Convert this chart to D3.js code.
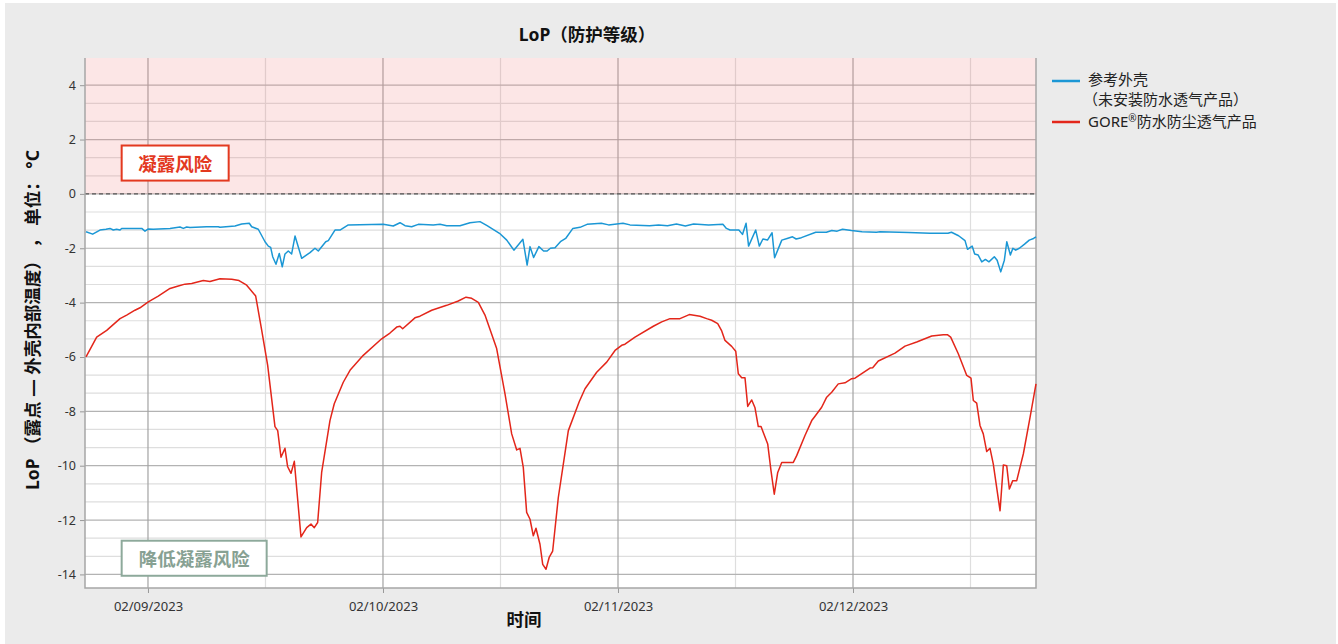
<!DOCTYPE html>
<html><head><meta charset="utf-8">
<script src="https://cdn.jsdelivr.net/npm/d3@7/dist/d3.min.js"></script>
<style>
html,body{margin:0;padding:0;background:#fff;}
svg{display:block;font-family:"Noto Sans","Noto Sans CJK SC",sans-serif;}
</style></head><body>
<svg id="chart" width="1338" height="644"></svg>
<script>
// ---- data (x = days relative to 02/09/2023) ----
const tickDays = [0, 30, 60, 90];
const tickLabels = ["02/09/2023", "02/10/2023", "02/11/2023", "02/12/2023"];
const minorDays = [15, 45, 75, 105];
const yTicks = [-14, -12, -10, -8, -6, -4, -2, 0, 2, 4];

const refDays = [-7.91,-7.06,-6.13,-5.36,-4.85,-4.43,-4.00,-3.57,-3.36,-0.80,-0.38,0.04,0.68,2.81,4.09,4.51,4.94,5.36,7.49,8.97,9.19,11.11,11.96,12.93,13.24,14.08,14.94,15.36,15.66,15.92,16.34,16.76,17.14,17.49,17.91,18.34,18.77,19.62,20.68,21.32,21.74,22.69,23.02,23.87,24.51,25.57,30.04,31.31,32.17,32.81,33.66,34.51,36.42,37.28,38.13,39.83,41.11,42.38,43.29,44.87,45.80,46.71,47.86,48.40,48.77,49.23,49.90,50.50,50.95,51.37,51.96,52.65,53.32,54.24,55.15,56.05,57.88,58.80,60.63,61.53,64.03,65.18,66.32,67.46,68.60,69.65,71.57,73.39,73.84,74.30,75.43,75.89,76.35,76.67,77.58,78.04,78.50,79.08,79.67,79.99,80.91,81.59,82.28,82.74,83.41,85.24,86.60,87.29,87.97,88.66,89.80,91.16,92.99,93.45,97.10,99.83,102.12,102.57,103.48,104.30,104.62,105.21,105.53,105.98,106.44,106.90,107.35,108.04,108.40,108.86,109.32,109.63,110.09,110.41,110.77,111.23,111.90,112.50,113.05,113.36];
const refValues = [-1.39,-1.48,-1.33,-1.30,-1.27,-1.33,-1.30,-1.33,-1.27,-1.27,-1.37,-1.29,-1.30,-1.27,-1.22,-1.27,-1.22,-1.24,-1.21,-1.21,-1.23,-1.18,-1.11,-1.08,-1.21,-1.30,-1.76,-1.92,-1.97,-2.31,-2.59,-2.19,-2.68,-2.21,-2.10,-2.21,-1.55,-2.37,-2.16,-2.00,-2.10,-1.76,-1.72,-1.33,-1.33,-1.14,-1.12,-1.18,-1.06,-1.17,-1.21,-1.12,-1.14,-1.12,-1.17,-1.17,-1.06,-1.02,-1.17,-1.45,-1.70,-2.07,-1.67,-2.62,-1.94,-2.34,-1.94,-2.10,-2.10,-2.00,-1.98,-1.76,-1.64,-1.27,-1.23,-1.12,-1.08,-1.14,-1.08,-1.14,-1.17,-1.14,-1.17,-1.11,-1.18,-1.11,-1.14,-1.12,-1.27,-1.33,-1.33,-1.49,-1.08,-1.92,-1.33,-1.92,-1.66,-1.70,-1.43,-2.35,-1.70,-1.64,-1.58,-1.66,-1.61,-1.41,-1.41,-1.35,-1.37,-1.30,-1.35,-1.39,-1.41,-1.39,-1.42,-1.45,-1.45,-1.41,-1.54,-1.72,-2.04,-1.92,-2.21,-2.25,-2.50,-2.41,-2.50,-2.31,-2.44,-2.87,-2.44,-1.76,-2.25,-2.00,-2.07,-2.00,-1.85,-1.70,-1.64,-1.58];

const goreDays = [-7.91,-6.55,-5.27,-3.57,-2.72,-1.66,-1.02,0.04,1.31,2.81,3.87,4.72,5.58,7.06,7.91,9.19,10.69,11.62,12.60,13.75,14.52,15.28,16.21,16.56,16.98,17.49,17.83,18.26,18.68,19.53,20.26,20.81,21.23,21.66,22.17,23.23,23.78,24.93,25.79,27.48,29.83,30.89,31.75,32.17,32.51,34.08,34.72,36.22,38.13,39.61,40.60,41.32,42.17,43.02,44.51,45.57,46.43,47.07,47.49,47.91,48.34,48.77,49.19,49.53,50.04,50.39,50.81,51.23,51.66,52.38,53.02,53.66,55.06,55.79,57.28,58.56,59.62,60.47,60.89,62.17,64.51,65.58,66.64,67.91,69.10,70.47,71.32,71.96,72.73,73.24,73.66,74.51,75.03,75.36,75.79,76.21,76.56,77.07,77.49,77.91,78.26,79.11,79.53,79.95,80.39,80.90,82.38,82.81,83.87,84.73,85.15,86.00,86.64,87.28,88.12,88.98,89.83,90.25,92.17,92.51,93.23,95.36,96.64,98.13,100.05,101.53,102.04,102.47,103.44,104.52,105.06,105.36,105.79,106.21,106.63,107.07,107.49,107.91,108.77,109.19,109.62,109.96,110.39,110.90,111.74,112.60,113.36];
const goreValues = [-6.00,-5.27,-5.02,-4.59,-4.46,-4.28,-4.19,-3.97,-3.76,-3.48,-3.39,-3.32,-3.30,-3.19,-3.22,-3.12,-3.14,-3.19,-3.36,-3.76,-5.02,-6.31,-8.56,-8.71,-9.69,-9.36,-10.04,-10.28,-9.84,-12.62,-12.28,-12.15,-12.28,-12.09,-10.25,-8.34,-7.72,-6.93,-6.49,-5.94,-5.33,-5.12,-4.90,-4.87,-4.96,-4.56,-4.50,-4.28,-4.10,-3.94,-3.80,-3.84,-3.99,-4.46,-5.69,-7.35,-8.83,-9.42,-9.36,-10.06,-11.72,-11.97,-12.58,-12.30,-12.89,-13.63,-13.81,-13.36,-13.14,-11.17,-9.94,-8.71,-7.64,-7.17,-6.56,-6.19,-5.76,-5.57,-5.53,-5.27,-4.87,-4.71,-4.59,-4.59,-4.44,-4.50,-4.59,-4.65,-4.77,-5.04,-5.39,-5.61,-5.79,-6.62,-6.76,-6.76,-7.82,-7.58,-7.87,-8.56,-8.56,-9.20,-10.18,-11.05,-10.25,-9.88,-9.88,-9.63,-8.89,-8.34,-8.18,-7.85,-7.48,-7.30,-6.99,-6.95,-6.80,-6.78,-6.41,-6.40,-6.15,-5.86,-5.60,-5.45,-5.23,-5.18,-5.18,-5.27,-5.88,-6.68,-6.78,-7.60,-7.70,-8.52,-8.83,-9.48,-9.36,-9.94,-11.66,-9.97,-10.00,-10.86,-10.55,-10.55,-9.57,-8.22,-6.99];

const seriesNames = ["参考外壳", "（未安装防水透气产品）", "GORE", "®", "防水防尘透气产品"];

// ---- layout ----
const svg = d3.select("#chart");
const L = 85, R = 1036, T = 58, B = 588;
const x = d3.scaleLinear().domain([-8.04, 113.36]).range([L, R]);
const y = d3.scaleLinear().domain([-14.5, 5]).range([B, T]);
const BLUE = "#1b97d5", RED = "#e3261a";

svg.append("rect").attr("x", 5).attr("y", 3).attr("width", 1331).attr("height", 641).attr("fill", "#ebebeb");
svg.append("rect").attr("x", L).attr("y", T).attr("width", R - L).attr("height", B - T).attr("fill", "#fff");

// minor horizontal grid
const minorY = [];
for (let v = -14; v < 4; v += 2) { minorY.push(v + 2/3, v + 4/3); }
svg.append("g").selectAll("line").data(minorY).join("line")
  .attr("x1", L).attr("x2", R).attr("y1", d => y(d)).attr("y2", d => y(d))
  .attr("stroke", "#dedede").attr("stroke-width", 1.2);
// minor vertical grid
svg.append("g").selectAll("line").data(minorDays).join("line")
  .attr("x1", d => x(d)).attr("x2", d => x(d)).attr("y1", T).attr("y2", B)
  .attr("stroke", "#dedede").attr("stroke-width", 1.2);
// major horizontal grid
svg.append("g").selectAll("line").data(yTicks).join("line")
  .attr("x1", L).attr("x2", R).attr("y1", d => y(d)).attr("y2", d => y(d))
  .attr("stroke", "#b3b3b3").attr("stroke-width", 1.2);
// major vertical grid
svg.append("g").selectAll("line").data(tickDays).join("line")
  .attr("x1", d => x(d)).attr("x2", d => x(d)).attr("y1", T).attr("y2", B)
  .attr("stroke", "#a3a3a3").attr("stroke-width", 1.2);

// pink risk band
svg.append("rect").attr("x", L).attr("y", y(5)).attr("width", R - L).attr("height", y(0) - y(5))
  .attr("fill", "#f08080").attr("fill-opacity", 0.2);
// zero dashed line
svg.append("line").attr("x1", L).attr("x2", R).attr("y1", y(0)).attr("y2", y(0))
  .attr("stroke", "#555").attr("stroke-width", 1.2).attr("stroke-dasharray", "4,3");

// axes
const yAxis = d3.axisLeft(y).tickValues(yTicks).tickSize(5).tickPadding(4).tickFormat(d => String(d));
const gy = svg.append("g").attr("transform", `translate(${L},0)`).call(yAxis);
gy.select(".domain").remove();
gy.selectAll(".tick line").attr("stroke", "#999");
gy.selectAll("text").attr("font-size", 12.5).attr("fill", "#333").attr("font-family", "Noto Sans");

const xAxis = d3.axisBottom(x).tickValues(tickDays).tickSize(5).tickPadding(9).tickFormat((d, i) => tickLabels[i]);
const gx = svg.append("g").attr("transform", `translate(0,${B})`).call(xAxis);
gx.select(".domain").remove();
gx.selectAll(".tick line").attr("stroke", "#999");
gx.selectAll("text").attr("font-size", 13).attr("fill", "#333").attr("font-family", "Noto Sans");

// frame
svg.append("path").attr("d", `M${L},${T}V${B}H${R}V${T}`).attr("fill", "none").attr("stroke", "#a6a6a6").attr("stroke-width", 1.5);

// lines
const line = d3.line().x(d => x(d[0])).y(d => y(d[1]));
svg.append("path").datum(refDays.map((d, i) => [d, refValues[i]]))
  .attr("d", line).attr("fill", "none").attr("stroke", BLUE).attr("stroke-width", 1.5).attr("stroke-linejoin", "round");
svg.append("path").datum(goreDays.map((d, i) => [d, goreValues[i]]))
  .attr("d", line).attr("fill", "none").attr("stroke", RED).attr("stroke-width", 1.5).attr("stroke-linejoin", "round");

// annotation boxes
function box(x0, x1, y0, y1, stroke, textColor, label) {
  svg.append("rect").attr("x", x(x0)).attr("y", y(y0)).attr("width", x(x1) - x(x0)).attr("height", y(y1) - y(y0))
    .attr("fill", "#fff").attr("stroke", stroke).attr("stroke-width", 2);
  svg.append("text").attr("x", (x(x0) + x(x1)) / 2).attr("y", (y(y0) + y(y1)) / 2)
    .attr("text-anchor", "middle").attr("dominant-baseline", "central")
    .attr("font-size", 18.5).attr("font-weight", "bold").attr("fill", textColor)
    .attr("font-family", "Noto Sans CJK SC").text(label);
}
box(-3.36, 10.3, 1.78, 0.49, "#e3391f", "#e3391f", "凝露风险");
box(-3.36, 15.15, -12.76, -14.05, "#8da99b", "#87a193", "降低凝露风险");

// titles
svg.append("text").attr("x", 587).attr("y", 34).attr("text-anchor", "middle").attr("dominant-baseline", "central")
  .attr("font-size", 17.5).attr("font-weight", "bold").attr("fill", "#111").text("LoP（防护等级）");
svg.append("text").attr("x", 524).attr("y", 619).attr("text-anchor", "middle").attr("dominant-baseline", "central")
  .attr("font-size", 17.5).attr("font-weight", "bold").attr("fill", "#111").text("时间");
svg.append("text").attr("transform", "translate(32,320) rotate(-90)").attr("text-anchor", "middle").attr("dominant-baseline", "central")
  .attr("font-size", 17.5).attr("font-weight", "bold").attr("fill", "#111").text("LoP （露点 — 外壳内部温度） ， 单位： °C");

// legend
const lg = svg.append("g").attr("font-size", 15).attr("fill", "#222");
lg.append("line").attr("x1", 1052).attr("x2", 1080).attr("y1", 81).attr("y2", 81).attr("stroke", BLUE).attr("stroke-width", 2.5);
lg.append("text").attr("x", 1088).attr("y", 79).attr("dominant-baseline", "central").text(seriesNames[0]);
lg.append("text").attr("x", 1083).attr("y", 99).attr("dominant-baseline", "central").text(seriesNames[1]);
lg.append("line").attr("x1", 1052).attr("x2", 1080).attr("y1", 122).attr("y2", 122).attr("stroke", RED).attr("stroke-width", 2.5);
const t2 = lg.append("text").attr("x", 1088).attr("y", 121).attr("dominant-baseline", "central");
t2.append("tspan").text(seriesNames[2]);
t2.append("tspan").attr("font-size", 10).attr("dy", -3).text(seriesNames[3]);
t2.append("tspan").attr("dy", 3).text(seriesNames[4]);
</script>
</body></html>
